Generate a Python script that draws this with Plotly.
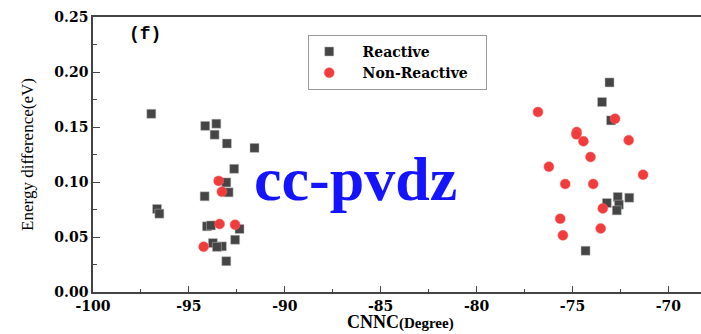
import plotly.graph_objects as go

# Reactive (squares)
reactive_x = [-96.96, -94.15, -93.57, -93.66, -93.02, -91.58, -92.64, -93.05, -92.93, -94.18,
              -96.66, -96.54, -94.06, -93.85, -92.36, -92.59, -93.75, -93.28, -93.54, -93.05,
              -73.07, -73.46, -72.99, -72.64, -72.04, -73.21, -72.58, -72.69, -74.32]
reactive_y = [0.162, 0.151, 0.153, 0.143, 0.135, 0.131, 0.112, 0.0996, 0.0906, 0.087,
              0.0755, 0.0712, 0.0597, 0.0605, 0.0573, 0.0475, 0.0445, 0.0415, 0.041, 0.028,
              0.1905, 0.1727, 0.156, 0.0864, 0.0857, 0.0809, 0.0794, 0.0742, 0.0375]

# Non-Reactive (circles)
nonreactive_x = [-93.45, -93.28, -93.40, -92.59, -94.23,
                 -76.80, -72.78, -74.78, -74.80, -74.43, -72.07, -74.06, -76.23, -71.32,
                 -75.38, -73.92, -73.42, -75.64, -73.53, -75.50]
nonreactive_y = [0.101, 0.0912, 0.0618, 0.0612, 0.0412,
                 0.1636, 0.1575, 0.1455, 0.1433, 0.137, 0.138, 0.1227, 0.1139, 0.1066,
                 0.0982, 0.0982, 0.076, 0.0666, 0.0578, 0.0515]

x_ticks = [-100, -95, -90, -85, -80, -75, -70]
y_ticks = [0.00, 0.05, 0.10, 0.15, 0.20, 0.25]
y_ticklabels = ["0.00", "0.05", "0.10", "0.15", "0.20", "0.25"]

pad_l = "&nbsp;" * 3
fig = go.Figure()
fig.add_trace(go.Scatter(
    x=reactive_x, y=reactive_y, mode="markers",
    name=pad_l + "<b>Reactive</b>",
    marker=dict(symbol="square", size=9, color="#454545",
                line=dict(color="#bbbbbb", width=0.5))))
fig.add_trace(go.Scatter(
    x=nonreactive_x, y=nonreactive_y, mode="markers",
    name=pad_l + "<b>Non-Reactive</b>" + "&nbsp;" * 3,
    marker=dict(symbol="circle", size=10, color="#f23b3b",
                line=dict(color="#f56a6a", width=0.5))))

tickfont = dict(family="DejaVu Serif", size=14, color="black")

fig.update_layout(
    width=701, height=334,
    margin=dict(l=93, r=0, t=17, b=42),
    plot_bgcolor="white", paper_bgcolor="white",
    showlegend=True,
    legend=dict(x=0.354, y=0.935, xanchor="left", yanchor="top",
                bgcolor="white", bordercolor="#999999", borderwidth=1,
                font=dict(family="DejaVu Serif", size=14, color="black"),
                tracegroupgap=0, itemwidth=30),
    xaxis=dict(range=[-100, -68.3], tickvals=x_ticks,
               ticktext=["<b>%d</b>" % v for v in x_ticks],
               showline=True, linecolor="#444444", linewidth=1.5, mirror=True,
               ticks="inside", ticklen=6, tickcolor="#444444",
               minor=dict(dtick=2.5, ticks="inside", ticklen=3, tickcolor="#444444"),
               showgrid=False, zeroline=False, tickfont=tickfont),
    yaxis=dict(range=[0, 0.25], tickvals=y_ticks,
               ticktext=["<b>%s</b>" % t for t in y_ticklabels],
               showline=True, linecolor="#444444", linewidth=1.5, mirror=False,
               ticks="inside", ticklen=7, tickcolor="#444444",
               minor=dict(dtick=0.025, ticks="inside", ticklen=4, tickcolor="#444444"),
               showgrid=False, zeroline=False, tickfont=tickfont,
               title=dict(text="Energy difference(eV)", standoff=16,
                          font=dict(family="Liberation Serif", size=17, color="black"))),
)

fig.add_annotation(xref="paper", yref="paper", x=0.505, y=0, xanchor="center",
                   yanchor="bottom", yshift=-42, showarrow=False,
                   text="<b><span style='font-size:18px'>CNNC</span>(Degree)</b>",
                   font=dict(family="Liberation Serif", size=15, color="black"))
fig.add_annotation(xref="paper", yref="paper", x=0.432, y=0.41, xanchor="center",
                   yanchor="middle", showarrow=False,
                   text="<b>cc-pvdz</b>",
                   font=dict(family="Liberation Serif", size=62, color="#1414ff"))
fig.add_annotation(xref="paper", yref="paper", x=0.086, y=0.94, xanchor="center",
                   yanchor="middle", showarrow=False,
                   text="<b>(f)</b>",
                   font=dict(family="Liberation Mono", size=18, color="black"))

fig.write_html("out.html")
